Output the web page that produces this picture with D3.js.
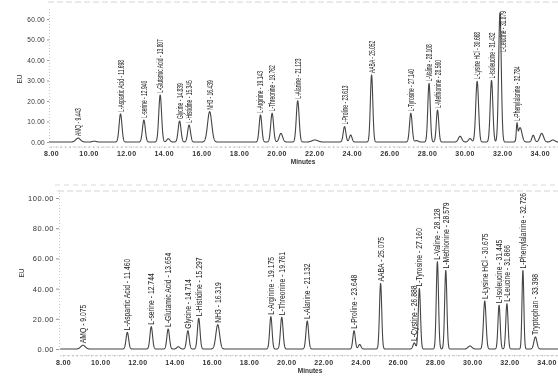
<!DOCTYPE html>
<html>
<head>
<meta charset="utf-8">
<script src="https://cdn.jsdelivr.net/npm/d3@7"></script>
<style>
  html, body { margin: 0; padding: 0; background: #fff; }
  svg { display: block; }
</style>
</head>
<body>
<div id="chart"></div>
<script>
// Upper chromatogram (standard mix): retention time, height (EU), peak width (sigma, min), label
const topTimes = [9.443, 10.30, 11.698, 12.940, 13.807, 14.24, 14.839, 15.345, 16.439, 19.143, 19.762, 20.23,
  21.123, 22.04, 23.613, 23.94, 25.052, 27.140, 27.45, 28.108, 28.560, 29.76, 30.29, 30.668, 31.432, 31.880,
  32.784, 32.95, 33.65, 34.10, 34.70];
const topHeights = [1.9, 0.4, 13.7, 10.7, 22.9, 1.6, 10.2, 8.3, 14.8, 13.2, 14.0, 4.2,
  20.1, 1.0, 7.5, 3.4, 32.7, 14.0, 0.7, 28.6, 15.6, 2.8, 1.7, 29.6, 30.0, 63.0,
  7.5, 7.0, 3.3, 4.2, 1.0];
const topWidths = [0.12, 0.10, 0.075, 0.075, 0.075, 0.08, 0.075, 0.075, 0.11, 0.07, 0.075, 0.09,
  0.075, 0.15, 0.07, 0.07, 0.065, 0.07, 0.08, 0.065, 0.065, 0.09, 0.08, 0.075, 0.07, 0.07,
  0.035, 0.10, 0.07, 0.10, 0.10];
const topNames = ["AMQ - 9.443", "", "L-Aspartic Acid - 11.698", "L-serine - 12.940", "L-Glutamic Acid - 13.807", "",
  "Glycine - 14.839", "L-Histidine - 15.345", "NH3 - 16.439", "L-Arginine - 19.143", "L-Threonine - 19.762", "",
  "L-Alanine - 21.123", "", "L-Proline - 23.613", "", "AABA - 25.052", "L-Tyrosine - 27.140", "",
  "L-Valine - 28.108", "L-Methionine - 28.560", "", "", "L-Lysine HCl - 30.668", "L-Isoleucine - 31.432",
  "L-Leucine - 31.879", "L-Phenylalanine - 32.784", "", "", "", ""];
const topYTicks = [0, 10, 20, 30, 40, 50, 60];

// Lower chromatogram (sample)
const botTimes = [9.075, 11.460, 12.744, 13.654, 14.20, 14.714, 15.297, 16.319, 19.175, 19.761, 21.132,
  23.648, 23.95, 25.075, 26.888, 27.160, 28.128, 28.579, 29.88, 30.675, 31.445, 31.866, 32.726, 33.398];
const botHeights = [2.5, 11.0, 14.8, 13.2, 1.5, 12.1, 20.3, 16.1, 21.4, 21.0, 18.5,
  12.1, 3.0, 43.4, 4.0, 40.0, 57.8, 52.0, 2.0, 31.8, 29.0, 30.0, 52.0, 8.0];
const botWidths = [0.12, 0.07, 0.07, 0.07, 0.08, 0.07, 0.07, 0.10, 0.065, 0.07, 0.07,
  0.065, 0.07, 0.06, 0.07, 0.06, 0.06, 0.06, 0.10, 0.07, 0.06, 0.06, 0.05, 0.08];
const botNames = ["AMQ - 9.075", "L-Aspartic Acid - 11.460", "L-serine - 12.744", "L-Glutamic Acid - 13.654", "",
  "Glycine - 14.714", "L-Histidine - 15.297", "NH3 - 16.319", "L-Arginine - 19.175", "L-Threonine - 19.761",
  "L-Alanine - 21.132", "L-Proline - 23.648", "", "AABA - 25.075", "L-Cystine - 26.888", "L-Tyrosine - 27.160",
  "L-Valine - 28.128", "L-Methionine - 28.579", "", "L-Lysine HCl - 30.675", "L-Isoleucine - 31.445",
  "L-Leucine - 31.866", "L-Phenylalanine - 32.726", "Tryptophan - 33.398"];
const botYTicks = [0, 20, 40, 60, 80, 100];

const xTicks = [8, 10, 12, 14, 16, 18, 20, 22, 24, 26, 28, 30, 32, 34];

const W = 558, H = 378;
const ink = "#333";

const svg = d3.select("#chart").append("svg")
  .attr("width", W)
  .attr("height", H)
  .style("font-family", "'Liberation Sans', Arial, sans-serif");

// the reference is a soft scan, so blur everything a touch
svg.append("defs").append("filter")
  .attr("id", "soft")
  .append("feGaussianBlur")
  .attr("stdDeviation", 0.3);

const root = svg.append("g").attr("filter", "url(#soft)");

function drawPanel(p) {
  const x = d3.scaleLinear().domain(p.xDomain).range(p.xRange);
  const y = d3.scaleLinear().domain([0, p.yMax]).range([p.y0, p.y0 - p.yMax * p.pxPerUnit]);
  const g = root.append("g");

  // faint frame lines of the scanned figure
  g.append("line")
    .attr("x1", p.frame[0]).attr("x2", W)
    .attr("y1", p.frame[1]).attr("y2", p.frame[1])
    .attr("stroke", "#d4d4d4").attr("stroke-dasharray", "6,3");

  // y axis
  const yAxis = g.append("g")
    .attr("transform", `translate(${p.yAxisX},0)`)
    .call(d3.axisLeft(y).tickValues(p.yTicks).tickFormat(d3.format(".2f"))
      .tickSize(p.yTickSize).tickPadding(2));
  yAxis.select(".domain").attr("stroke", "#c8c8c8").attr("stroke-dasharray", "1,2");
  yAxis.selectAll(".tick line").attr("stroke", "#999");
  yAxis.selectAll("text").attr("fill", ink).attr("font-size", p.yFont)
    .attr("letter-spacing", p.yLetter);

  g.append("text")
    .attr("transform", `translate(${p.euX},${p.euY}) rotate(-90)`)
    .attr("text-anchor", "middle")
    .attr("dy", "0.35em")
    .attr("font-size", 6.5)
    .attr("fill", ink)
    .text("EU");

  // x axis: minor ticks then labelled ticks
  const minor = d3.range(Math.ceil(p.xDomain[0] * 4) / 4, p.xDomain[1], 0.25);
  const xMinor = g.append("g")
    .attr("transform", `translate(0,${p.xAxisY})`)
    .call(d3.axisBottom(x).tickValues(minor).tickFormat("").tickSize(1.5));
  xMinor.select(".domain").attr("stroke", "#cfcfcf").attr("stroke-dasharray", "2,2");
  xMinor.selectAll(".tick line").attr("stroke", "#bbb");

  const xAxis = g.append("g")
    .attr("transform", `translate(0,${p.xAxisY})`)
    .call(d3.axisBottom(x).tickValues(xTicks).tickFormat(d3.format(".2f")).tickSize(0).tickPadding(5));
  xAxis.select(".domain").remove();
  xAxis.selectAll("text").attr("fill", ink).attr("font-size", 7).attr("font-weight", "bold")
    .attr("letter-spacing", 0.4);

  g.append("text")
    .attr("x", p.minutesX).attr("y", p.minutesY)
    .attr("text-anchor", "middle")
    .attr("dy", "0.35em")
    .attr("font-size", 6.5)
    .attr("font-weight", "bold")
    .attr("fill", ink)
    .text("Minutes");

  // trace = sum of peaks
  const peaks = p.times.map((t, i) => ({ t, h: p.heights[i], s: p.widths[i], name: p.names[i] }));
  const signal = t => d3.sum(peaks, d => d.h * Math.exp(-0.5 * ((t - d.t) / d.s) ** 2));
  const ts = d3.range(p.xDomain[0], p.xDomain[1], 0.005);
  g.append("path")
    .datum(ts)
    .attr("fill", "none")
    .attr("stroke", "#444")
    .attr("stroke-width", 1.1)
    .attr("stroke-linejoin", "round")
    .attr("d", d3.line().x(t => x(t)).y(t => y(signal(t))));

  // vertical peak labels
  const labelled = peaks.filter(d => d.name);
  labelled.forEach(d => {
    const px = x(d.t);
    const apex = y(signal(d.t));
    const txt = g.append("text")
      .attr("font-size", 8.5)
      .attr("fill", "#222")
      .attr("dy", "0.35em")
      .text(d.name);
    const len = txt.node().getComputedTextLength() * p.labelScale;
    let start = apex - 2;
    let dx = 0;
    if (start - len < p.plotTop) {
      start = p.plotTop + len;
      dx = 3;
    }
    txt.attr("transform", `translate(${px + dx},${start}) rotate(-90) scale(${p.labelScale},1)`);
  });
}

drawPanel({
  times: topTimes, heights: topHeights, widths: topWidths, names: topNames,
  xDomain: [7.9, 35.05], xRange: [51 - 0.1 * 18.8, 51 + 27.05 * 18.8],
  y0: 142, pxPerUnit: 2.05, yMax: 65, yTicks: topYTicks,
  yAxisX: 49, yTickSize: 2, yFont: 6.5, yLetter: 0.3,
  euX: 20, euY: 79, xAxisY: 146.5, minutesX: 303, minutesY: 162,
  labelScale: 0.58, plotTop: 11, frame: [48, 2]
});

drawPanel({
  times: botTimes, heights: botHeights, widths: botWidths, names: botNames,
  xDomain: [7.85, 34.85], xRange: [63 - 0.15 * 18.6, 63 + 26.85 * 18.6],
  y0: 349, pxPerUnit: 1.51, yMax: 105, yTicks: botYTicks,
  yAxisX: 59, yTickSize: 3, yFont: 7.5, yLetter: 0.5,
  euX: 22, euY: 273, xAxisY: 355, minutesX: 310, minutesY: 371,
  labelScale: 0.8, plotTop: 192, frame: [58, 191]
});

// faint lower frame line of the upper figure
root.append("line")
  .attr("x1", 55).attr("x2", W)
  .attr("y1", 185).attr("y2", 185)
  .attr("stroke", "#dadada").attr("stroke-dasharray", "5,4");
</script>
</body>
</html>
